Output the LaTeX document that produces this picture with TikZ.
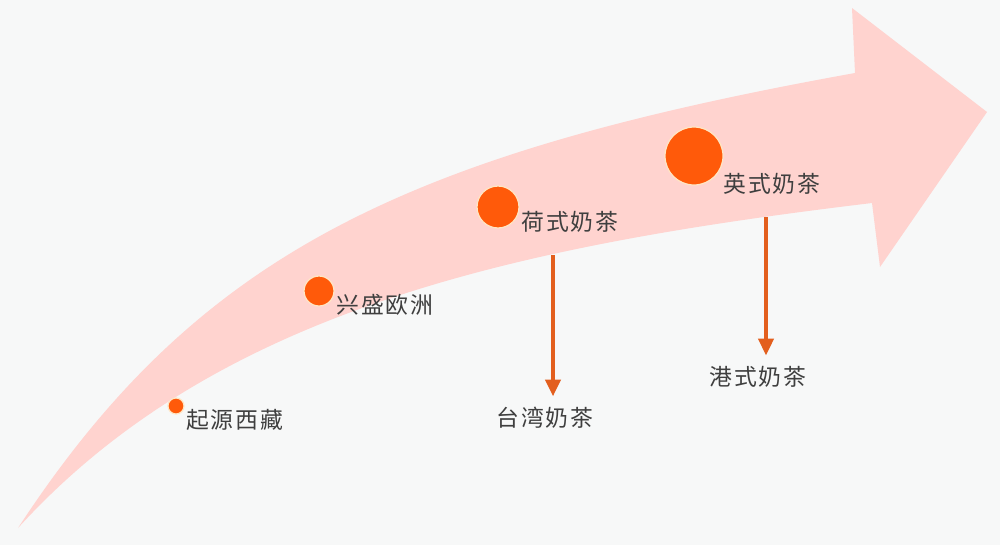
\documentclass[tikz,border=0pt]{standalone}
\usepackage{fontspec}
\usetikzlibrary{arrows.meta,positioning,calc}
\newfontfamily\cjk{Noto Sans CJK SC}[LetterSpace=8]
\definecolor{paper}{HTML}{F7F8F8}
\definecolor{blush}{HTML}{FFD3CF}
\definecolor{ember}{HTML}{FF5A0A}
\definecolor{cream}{HTML}{FFE6C4}
\definecolor{rust}{HTML}{E35F1E}
\definecolor{ink}{HTML}{3F3F3F}

\begin{document}
\begin{tikzpicture}[x=0.02cm,y=-0.02cm,
  milestone/.style={circle,fill=ember,draw=cream,line width=0.7pt,inner sep=0pt,minimum size=#1},
  lab/.style={font=\cjk\fontsize{13}{15}\selectfont,text=ink,inner sep=0pt},
  flow/.style={rust,line width=2.3pt,-{Triangle[width=8.5pt,length=9.6pt]}}]
  % page
  \fill[paper] (0,0) rectangle (1000,545);
  \useasboundingbox (0,0) rectangle (1000,545);
  % the big curved arrow
  \fill[blush] (18,528) .. controls (198,253) and (405,154) .. (855,73)
    -- (852,8) -- (987,112) -- (880,267) -- (872,203)
    .. controls (522,245) and (218,308) .. (18,528) -- cycle;
  % milestones
  \node[milestone=0.32cm] (tibet) at (176,406) {};
  \node[milestone=0.60cm] (europe) at (319,291) {};
  \node[milestone=0.84cm] (dutch) at (498,207) {};
  \node[milestone=1.16cm] (british) at (694,156) {};
  \node[lab,anchor=west] (tibetlab) at (186,420) {起源西藏};
  \node[lab,anchor=west] (europelab) at (336,305) {兴盛欧洲};
  \node[lab,anchor=west] (dutchlab) at (521,222) {荷式奶茶};
  \node[lab,anchor=west] (britishlab) at (723,184) {英式奶茶};
  \node[lab] (taiwan) at (545,418) {台湾奶茶};
  \node[lab] (hongkong) at (758,377) {港式奶茶};
  % offshoots
  \coordinate (dutchfoot) at (553,255);
  \coordinate (britishfoot) at (766,217);
  \draw[flow,shorten >=6pt] (dutchfoot) -- (dutchfoot |- taiwan.north);
  \draw[flow,shorten >=6pt] (britishfoot) -- (britishfoot |- hongkong.north);
\end{tikzpicture}
\end{document}
